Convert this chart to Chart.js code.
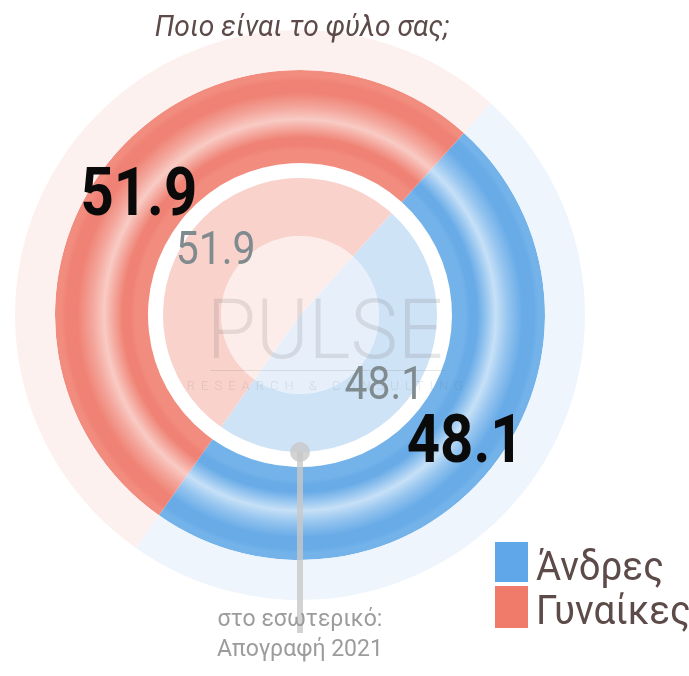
<!DOCTYPE html>
<html lang="el">
<head>
    <meta charset="UTF-8">
    <title>Ποιο είναι το φύλο σας;</title>
    <script src="https://cdn.jsdelivr.net/npm/chart.js@4.4.1/dist/chart.umd.min.js"></script>
    <style>
        html, body { margin: 0; padding: 0; background: #fff; }
        #chart-container { position: relative; width: 689px; height: 676px; }
    </style>
</head>
<body>
    <div id="chart-container">
        <canvas id="myChart"></canvas>
    </div>

    <script>
        // δεδομένα
        const categories = ['Άνδρες', 'Γυναίκες'];
        const survey = [48.1, 51.9];      // δείγμα (κύριος δακτύλιος)
        const census = [48.1, 51.9];      // εσωτερικό: Απογραφή 2021
        const chartTitle = 'Ποιο είναι το φύλο σας;';
        const innerNote = ['στο εσωτερικό:', 'Απογραφή 2021'];

        // χρώματα
        const baseCol  = ['#74B3EA', '#F28C7E'];
        const darkCol  = ['#68ABE7', '#EF8274'];
        const lightCol = ['#C6E0F7', '#F8CBC4'];
        const midCol   = ['#96C5EF', '#F4A69C'];
        const faintCol = ['#EEF5FC', '#FDF1EF'];
        const innerCol = ['#CFE3F7', '#F9D2CC'];
        const coreCol  = ['#E7F0FA', '#FDEDEA'];
        const legendCol = ['#5FA7E9', '#F17B6B'];

        function ringFill(context) {
            const chart = context.chart;
            const i = context.dataIndex;
            const c = chart.getDatasetMeta(context.datasetIndex).controller;
            const area = chart.chartArea;
            if (!area || !c.outerRadius) return baseCol[i];
            const cx = (area.left + area.right) / 2;
            const cy = (area.top + area.bottom) / 2;
            const g = chart.ctx.createRadialGradient(cx, cy, c.innerRadius, cx, cy, c.outerRadius);
            g.addColorStop(0, baseCol[i]);
            g.addColorStop(0.14, baseCol[i]);
            g.addColorStop(0.19, darkCol[i]);
            g.addColorStop(0.27, darkCol[i]);
            g.addColorStop(0.37, midCol[i]);
            g.addColorStop(0.47, lightCol[i]);
            g.addColorStop(0.6, midCol[i]);
            g.addColorStop(0.76, darkCol[i]);
            g.addColorStop(0.88, darkCol[i]);
            g.addColorStop(0.93, baseCol[i]);
            g.addColorStop(1, baseCol[i]);
            return g;
        }

        function drawText(ctx, str, x, y, font, color, align, sx) {
            ctx.save();
            ctx.font = font;
            ctx.fillStyle = color;
            ctx.textAlign = align;
            ctx.textBaseline = 'alphabetic';
            ctx.translate(x, y);
            ctx.scale(sx, 1);
            ctx.fillText(str, 0, 0);
            ctx.restore();
        }

        function drawMid(ctx, str, x, y, font, color, sx, cap) {
            drawText(ctx, str, x, y + cap / 2, font, color, 'center', sx);
        }

        const overlay = {
            id: 'overlay',
            afterDatasetsDraw(chart) {
                const ctx = chart.ctx;
                const area = chart.chartArea;
                const cx = (area.left + area.right) / 2;
                const cy = (area.top + area.bottom) / 2;

                // υδατογράφημα
                ctx.save();
                ctx.globalAlpha = 0.17;
                drawText(ctx, 'PULSE', cx + 25, cy + 43, '300 84px Roboto', '#6b6b6b', 'center', 0.95);
                ctx.font = '300 13px Roboto';
                ctx.fillStyle = '#6b6b6b';
                ctx.textAlign = 'center';
                ctx.letterSpacing = '6px';
                ctx.fillText('RESEARCH & CONSULTING', cx + 28, cy + 75);
                ctx.fillRect(cx - 90, cy + 55, 235, 1);
                ctx.restore();

                // στέλεχος σημείωσης
                const pie = chart.getDatasetMeta(3).controller;
                const dotY = cy + pie.outerRadius;
                ctx.save();
                ctx.fillStyle = 'rgba(200,200,200,0.8)';
                ctx.fillRect(cx - 3, dotY, 6, 633 - dotY);
                ctx.beginPath();
                ctx.arc(cx, dotY, 10, 0, Math.PI * 2);
                ctx.fill();
                ctx.restore();

                // τιμές
                chart.getDatasetMeta(1).data.forEach((arc, i) => {
                    const p = arc.getCenterPoint();
                    drawMid(ctx, survey[i].toFixed(1), p.x + (i === 0 ? 10 : -6), p.y, 'bold 66px Roboto', '#0a0a0a', 0.88, 47);
                });
                chart.getDatasetMeta(3).data.forEach((arc, i) => {
                    const p = arc.getCenterPoint();
                    drawMid(ctx, census[i].toFixed(1), p.x, p.y, '46px Roboto', '#7F8B8F', 0.89, 33);
                });
            },
            afterDraw(chart) {
                const ctx = chart.ctx;
                // τίτλος
                drawText(ctx, chartTitle, 302, 36, 'italic 30px Roboto', '#5C4B49', 'center', 0.94);

                // υπόμνημα
                const lgY = [542, 586];
                categories.forEach((name, i) => {
                    ctx.fillStyle = legendCol[i];
                    ctx.fillRect(495, lgY[i], 33, i === 0 ? 40 : 42);
                    drawText(ctx, name, 536, lgY[i] + 38, '41px Roboto', '#5C4B49', 'left', 0.94);
                });

                // σημείωση
                drawText(ctx, innerNote[0], 300, 626, '24px Roboto', '#9C9C9C', 'center', 0.96);
                drawText(ctx, innerNote[1], 300, 656, '24px Roboto', '#9C9C9C', 'center', 0.96);
            }
        };

        const ctx = document.getElementById('myChart').getContext('2d');
        const myChart = new Chart(ctx, {
            type: 'doughnut',
            data: {
                labels: categories,
                datasets: [
                    { data: survey, backgroundColor: faintCol, weight: 40 },
                    { data: survey, backgroundColor: ringFill, weight: 93 },
                    { data: survey, backgroundColor: ['rgba(0,0,0,0)', 'rgba(0,0,0,0)'], weight: 15 },
                    { data: census, backgroundColor: innerCol, weight: 58 },
                    { data: census, backgroundColor: coreCol, weight: 79 }
                ]
            },
            options: {
                responsive: true,
                maintainAspectRatio: false,
                animation: false,
                cutout: 0,
                rotation: 42,
                borderWidth: 0,
                hoverOffset: 0,
                layout: { padding: { left: 15, top: 30, right: 104, bottom: 76 } },
                elements: { arc: { borderWidth: 0, hoverOffset: 0, offset: 0 } },
                plugins: {
                    legend: { display: false },
                    title: { display: false },
                    tooltip: { enabled: false }
                },
                events: []
            },
            plugins: [overlay]
        });
    </script>
</body>
</html>
